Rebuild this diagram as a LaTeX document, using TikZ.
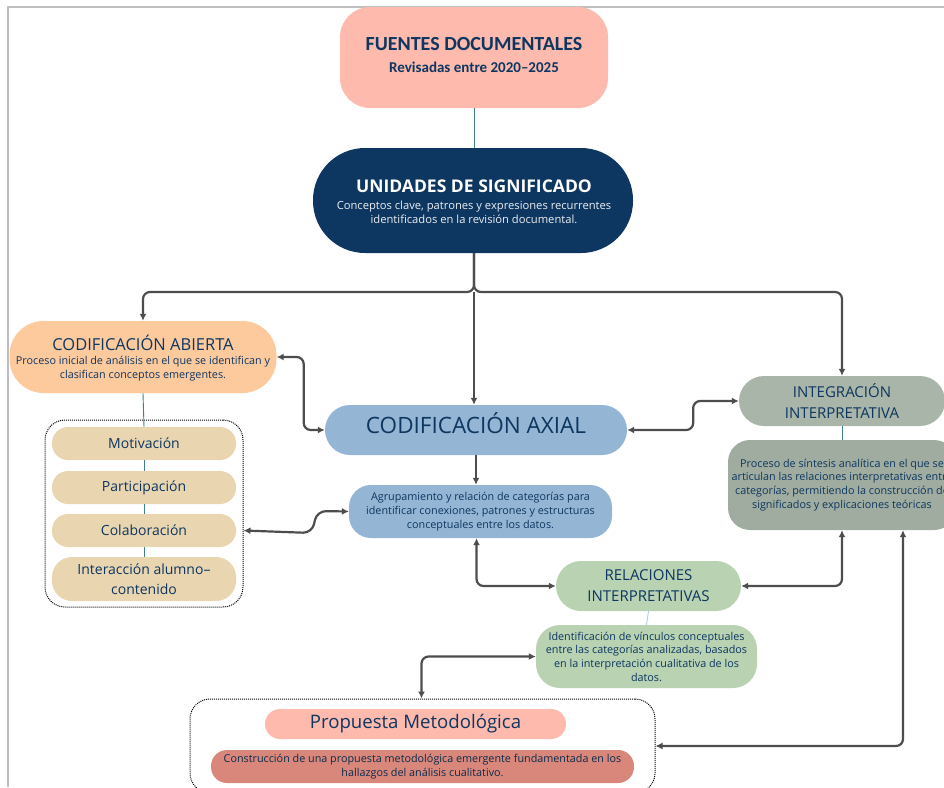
\documentclass[tikz,border=0pt]{standalone}
\usepackage{fontspec}
\setmainfont{Open Sans}
\newfontfamily\calfont{Carlito}
\usetikzlibrary{arrows.meta}
\definecolor{navy}{HTML}{0D3660}
\definecolor{salmon}{HTML}{FDBAAD}
\definecolor{peach}{HTML}{FDCA9D}
\definecolor{tan}{HTML}{E9D6B1}
\definecolor{lblue}{HTML}{94B6D4}
\definecolor{sage}{HTML}{A9B5A8}
\definecolor{sagedk}{HTML}{A0AC9F}
\definecolor{lgreen}{HTML}{B8D2B2}
\definecolor{dsalmon}{HTML}{D9877A}
\definecolor{cline}{HTML}{4D4D4D}
\definecolor{tline}{HTML}{3F7F86}
\definecolor{frame}{HTML}{BFBFBF}
\newcommand\myfs[2]{\fontsize{#1}{#2}\selectfont}
\begin{document}
\begin{tikzpicture}[x=1pt,y=-1pt,
  conn/.style={draw=cline, line width=2.2pt, rounded corners=7pt},
  dbl/.style={conn, {Latex[length=7pt,width=7pt]}-{Latex[length=7pt,width=7pt]}},
  sgl/.style={conn, -{Latex[length=7pt,width=7pt]}},
  thinl/.style={draw=tline, line width=0.9pt},
  box/.style={inner sep=0pt, align=center, text=navy},
  dotbox/.style={draw=black, densely dotted, line width=1pt, rounded corners=20pt, inner sep=0pt},
  txt/.style={inner sep=0pt, align=center},
]
\useasboundingbox (0,0) rectangle (944,787);
% frame
\draw[frame, line width=1.6pt] (8,787) -- (8,7) -- (944,7);

% dotted groups
\node[dotbox, minimum width=198, minimum height=187] (grp1) at (144,513.5) {};
\node[dotbox, minimum width=465, minimum height=94] (grp2) at (422.5,746) {};

% nodes
\node[box, fill=salmon, rounded corners=30pt, minimum width=268, minimum height=101] (fuentes) at (474,57.5) {};
\node[txt, text=navy, font=\calfont\bfseries\myfs{20}{24}] (fuentesT) at (474,44) {FUENTES DOCUMENTALES};
\node[txt, text=navy, font=\calfont\bfseries\myfs{15}{18}] (fuentesS) at (474,67) {Revisadas entre 2020–2025};

\node[box, fill=navy, rounded corners=52pt, minimum width=320, minimum height=105] (unidades) at (473,200.5) {};
\node[txt, text=white, font=\bfseries\myfs{17.5}{21}] (unidadesT) at (474,186) {UNIDADES DE SIGNIFICADO};
\node[txt, text=white!92!navy, font=\myfs{11.2}{13.5}] (unidadesS) at (474,212.5) {Conceptos clave, patrones y expresiones recurrentes\\identificados en la revisión documental.};

\node[box, fill=peach, rounded corners=34pt, minimum width=267, minimum height=72] (abierta) at (143,357) {};
\node[txt, text=navy, font=\myfs{16.5}{20}] (abiertaT) at (143,343) {CODIFICACIÓN ABIERTA};
\node[txt, text=navy, font=\myfs{10.8}{14}] (abiertaS) at (143,369) {Proceso inicial de análisis en el que se identifican y\\clasifican conceptos emergentes.};

\node[box, fill=tan, rounded corners=16pt, minimum width=184, minimum height=33, font=\myfs{14}{17}] (motiv) at (144,443.5) {Motivación};
\node[box, fill=tan, rounded corners=16pt, minimum width=184, minimum height=33, font=\myfs{14}{17}] (partic) at (144,487.5) {Participación};
\node[box, fill=tan, rounded corners=16pt, minimum width=184, minimum height=33, font=\myfs{14}{17}] (colab) at (144,530.5) {Colaboración};
\node[box, fill=tan, rounded corners=20pt, minimum width=184, minimum height=44, font=\myfs{14}{19.5}] (inter) at (144,579) {Interacción alumno–\\contenido};
\node[box, fill=lblue, rounded corners=25pt, minimum width=302, minimum height=50] (axial) at (476,430) {};
\node[txt, text=navy, font=\myfs{22.5}{26}] (axialT) at (476,423) {CODIFICACIÓN AXIAL};
\node[box, fill=lblue, rounded corners=22pt, minimum width=263, minimum height=53, font=\myfs{10.8}{14}] (agrup) at (480.5,511.5)
  {Agrupamiento y relación de categorías para\\identificar conexiones, patrones y estructuras\\conceptuales entre los datos.};
\node[box, fill=sage, rounded corners=25pt, minimum width=206, minimum height=50, font=\myfs{15}{21}] (integ) at (842,401) {INTEGRACIÓN\\INTERPRETATIVA};
\node[box, fill=sagedk, rounded corners=22pt, minimum width=228, minimum height=90, font=\myfs{10.8}{13.8}] (integd) at (842,485)
  {Proceso de síntesis analítica en el que se\\articulan las relaciones interpretativas entre\\categorías, permitiendo la construcción de\\significados y explicaciones teóricas};
\node[box, fill=lgreen, rounded corners=25pt, minimum width=185, minimum height=50, font=\myfs{15}{21}] (relac) at (648.5,586) {RELACIONES\\INTERPRETATIVAS};
\node[box, fill=lgreen, rounded corners=24pt, minimum width=221, minimum height=63, font=\myfs{10.8}{13.7}] (relacd) at (646.5,656.5)
  {Identificación de vínculos conceptuales\\entre las categorías analizadas, basados\\en la interpretación cualitativa de los\\datos.};
\node[box, fill=salmon, rounded corners=15pt, minimum width=301, minimum height=30, font=\myfs{18.6}{22}] (propuesta) at (415.5,724) {Propuesta Metodológica};
\node[box, fill=dsalmon, rounded corners=16pt, minimum width=423, minimum height=33, text=navy!80!black, font=\myfs{10.8}{13.3}] (constr) at (422.5,766.5)
  {Construcción de una propuesta metodológica emergente fundamentada en los\\hallazgos del análisis cualitativo.};

% thin links
\draw[thinl] (fuentes.south) -- (unidades.north -| fuentes.south);
\draw[thinl] (abierta.south) -- (motiv.north);
\draw[thinl] (motiv.south) -- (partic.north);
\draw[thinl] (partic.south) -- (colab.north);
\draw[thinl] (colab.south) -- (inter.north);
\draw[thinl] (integ.south) -- (integd.north);
\draw[thinl, draw=lblue!70!white] (relac.south) -- (relacd.north);

% connectors
\coordinate (j) at (474,292);
\draw[sgl] (unidades.south -| j) -- (j) -| (abierta.north);
\draw[sgl] (unidades.south -| j) -- (j) -| (integ.north);
\draw[sgl] (j) -- (j |- axial.north);
\draw[dbl] (abierta.east) -- ([xshift=27]abierta.east) |- (axial.west);
\draw[sgl] (axial.south) -- (axial.south |- agrup.north);
\draw[dbl, rounded corners=9pt] (grp1.east |- colab) -- (312,533) -- (317,511) -- (agrup.west);
\draw[dbl] ([xshift=-4]agrup.south) |- (relac.west);
\draw[dbl] (axial.east) -- ([xshift=66]axial.east) |- (integ.west);
\draw[dbl] (integd.south) |- (relac.east);
\draw[dbl] (grp2.east) -| ([xshift=61]integd.south);
\draw[dbl] ([xshift=-1]grp2.north) |- (relacd.west);
\end{tikzpicture}
\end{document}
